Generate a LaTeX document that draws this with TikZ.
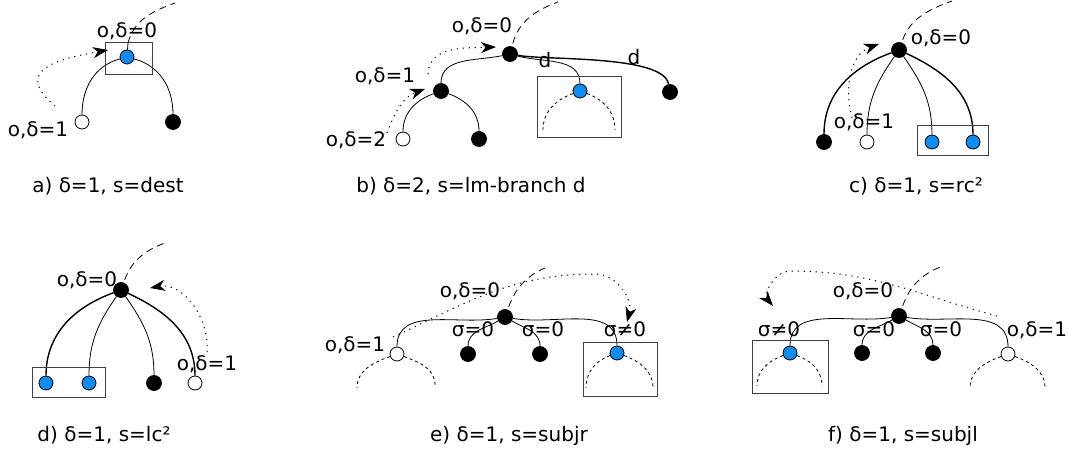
\documentclass[tikz,border=0pt]{standalone}
\usepackage{fontspec}
\setmainfont{DejaVu Sans}
\usetikzlibrary{arrows.meta}
\definecolor{targetblue}{RGB}{16,140,240}
\tikzset{
	vertex/.style={circle,draw,line width=0.8pt,minimum size=14pt,inner sep=0pt},%
	hole/.style={vertex,fill=white},%
	full/.style={vertex,fill=black,minimum size=15pt},%
	target/.style={vertex,fill=targetblue},%
	edge/.style={line width=0.8pt},%
	heavy/.style={line width=1.4pt},%
	parent/.style={dash pattern=on 7pt off 5pt,line width=0.8pt,shorten <=3pt},%
	subtree/.style={dash pattern=on 3pt off 3pt,line width=0.8pt},%
	move/.style={dash pattern=on 1.2pt off 4.8pt,line width=1pt,-{Stealth[length=15pt,width=11pt,inset=4.5pt]}},%
	frame/.style={draw=black!75,line width=1pt},%
	lbl/.style={anchor=base,inner sep=0pt,font=\fontsize{20}{24}\selectfont},%
}

\begin{document}
\begin{tikzpicture}[x=1pt,y=1pt]
	\useasboundingbox (0,0) rectangle (1069,-449);
	% a
	\node[target] (a0) at (127,-57) {};
	\node[hole] (a1) at (82,-122) {};
	\node[full] (a2) at (173,-122) {};
	\draw[edge] (a0) to[out=195,in=90] (a1);
	\draw[edge] (a0) to[out=-15,in=90] (a2);
	\draw[frame] (105,-43) rectangle (152,-75);
	\coordinate (a-up) at (128,-43);
	\coordinate (a-top) at (175,-3);
	\draw[edge] (a0) -- (a-up);
	\draw[parent,shorten <=0pt] (a-up) to[out=75,in=200] (a-top);
	\coordinate (a-from) at (55,-106);
	\coordinate (a-to) at (108,-50);
	\draw[move] (a-from) to[out=140,in=190,looseness=1.8] (a-to);
	\node[lbl] (a-l0) at (127,-38) {o,δ=0};
	\node[lbl] (a-l1) at (38,-137) {o,δ=1};
	\node[lbl] (a-cap) at (108,-193) {a) δ=1, s=dest};
	% b
	\node[full] (b0) at (510,-54) {};
	\node[full] (b1) at (441,-91) {};
	\node[hole] (b2) at (403,-139) {};
	\node[full] (b3) at (479,-139) {};
	\node[target] (b4) at (580,-91) {};
	\node[full] (b5) at (670,-92) {};
	\draw[edge] (b0) to[out=192,in=90] (b1);
	\draw[edge] (b1) to[out=200,in=90] (b2);
	\draw[edge] (b1) to[out=-20,in=90] (b3);
	\draw[edge] (b0) to[out=-15,in=90] (b4);
	\draw[heavy] (b0) to[out=-10,in=100,looseness=0.5] (b5);
	\coordinate (b-l) at (543,-130);
	\coordinate (b-r) at (615,-130);
	\draw[subtree] (b4) to[out=200,in=90] (b-l);
	\draw[subtree] (b4) to[out=-20,in=90] (b-r);
	\draw[frame] (537,-77) rectangle (621,-138);
	\coordinate (b-top) at (558,-2);
	\draw[parent] (b0) to[out=75,in=200] (b-top);
	\coordinate (b-from1) at (387,-133);
	\coordinate (b-to1) at (425,-89);
	\draw[move] (b-from1) to[out=70,in=200] (b-to1);
	\coordinate (b-from2) at (428,-74);
	\coordinate (b-to2) at (496,-47);
	\draw[move] (b-from2) to[out=88,in=182] (b-to2);
	\node[lbl] (b-l0) at (482,-33) {o,δ=0};
	\node[lbl] (b-l1) at (385,-83) {o,δ=1};
	\node[lbl] (b-l2) at (356,-147) {o,δ=2};
	\node[lbl] (b-d1) at (545,-68) {d};
	\node[lbl] (b-d2) at (634,-65) {d};
	\node[lbl] (b-cap) at (471,-193) {b) δ=2, s=lm-branch d};
	% c
	\node[full] (c0) at (899,-50) {};
	\node[full] (c1) at (824,-142) {};
	\node[hole] (c2) at (867,-142) {};
	\node[target] (c3) at (932,-142) {};
	\node[target] (c4) at (973,-142) {};
	\draw[heavy] (c0) to[out=200,in=90] (c1);
	\draw[edge] (c0) to[out=235,in=90] (c2);
	\draw[edge] (c0) to[out=-55,in=90] (c3);
	\draw[heavy] (c0) to[out=-25,in=90] (c4);
	\draw[frame] (917,-126) rectangle (988,-156);
	\coordinate (c-top) at (952,-1);
	\draw[parent] (c0) to[out=70,in=200] (c-top);
	\coordinate (c-from) at (852,-118);
	\coordinate (c-to) at (879,-44);
	\draw[move] (c-from) to[out=105,in=200] (c-to);
	\node[lbl] (c-l0) at (941,-45) {o,δ=0};
	\node[lbl] (c-l1) at (864,-129) {o,δ=1};
	\node[lbl] (c-cap) at (916,-193) {c) δ=1, s=rc²};
	% d
	\node[full] (d0) at (121,-290) {};
	\node[target] (d1) at (46,-383) {};
	\node[target] (d2) at (89,-383) {};
	\node[full] (d3) at (154,-383) {};
	\node[hole] (d4) at (195,-383) {};
	\draw[heavy] (d0) to[out=200,in=90] (d1);
	\draw[edge] (d0) to[out=235,in=90] (d2);
	\draw[edge] (d0) to[out=-55,in=90] (d3);
	\draw[heavy] (d0) to[out=-25,in=90] (d4);
	\draw[frame] (32,-367) rectangle (105,-397);
	\coordinate (d-top) at (165,-243);
	\draw[parent] (d0) to[out=70,in=200] (d-top);
	\coordinate (d-from) at (207,-352);
	\coordinate (d-to) at (150,-288);
	\draw[move] (d-from) to[out=85,in=10] (d-to);
	\node[lbl] (d-l0) at (87,-287) {o,δ=0};
	\node[lbl] (d-l1) at (207,-370) {o,δ=1};
	\node[lbl] (d-cap) at (104,-441) {d) δ=1, s=lc²};
	% e
	\node[full] (e0) at (505,-317) {};
	\node[hole] (e1) at (397,-354) {};
	\node[full] (e2) at (468,-354) {};
	\node[full] (e3) at (540,-354) {};
	\node[target] (e4) at (617,-353) {};
	\draw[edge] (e0) to[out=190,in=90] (e1);
	\draw[edge] (e0) to[out=210,in=90] (e2);
	\draw[edge] (e0) to[out=-30,in=90] (e3);
	\draw[edge] (e0) to[out=-10,in=90] (e4);
	\coordinate (e-l1) at (357,-388);
	\coordinate (e-r1) at (435,-385);
	\coordinate (e-l4) at (586,-388);
	\coordinate (e-r4) at (653,-388);
	\draw[subtree] (e1) to[out=200,in=90] (e-l1);
	\draw[subtree] (e1) to[out=-20,in=90] (e-r1);
	\draw[subtree] (e4) to[out=200,in=90] (e-l4);
	\draw[subtree] (e4) to[out=-20,in=90] (e-r4);
	\draw[frame] (583,-342) rectangle (657,-396);
	\coordinate (e-top) at (550,-266);
	\draw[parent] (e0) to[out=70,in=200] (e-top);
	\coordinate (e-from) at (393,-337);
	\coordinate (e-mid) at (595,-274);
	\coordinate (e-to) at (627,-322);
	\draw[move] (e-from) to[out=25,in=180] (e-mid) to[out=0,in=75] (e-to);
	\node[lbl] (e-l0) at (470,-298) {o,δ=0};
	\node[lbl] (e-l1) at (355,-352) {o,δ=1};
	\node[lbl] (e-s2) at (473,-336) {σ=0};
	\node[lbl] (e-s3) at (543,-336) {σ=0};
	\node[lbl] (e-s4) at (625,-336) {σ≠0};
	\node[lbl] (e-cap) at (509,-441) {e) δ=1, s=subjr};
	% f
	\node[full] (f0) at (899,-316) {};
	\node[target] (f1) at (790,-353) {};
	\node[full] (f2) at (862,-353) {};
	\node[full] (f3) at (933,-353) {};
	\node[hole] (f4) at (1008,-354) {};
	\draw[edge] (f0) to[out=190,in=90] (f1);
	\draw[edge] (f0) to[out=210,in=90] (f2);
	\draw[edge] (f0) to[out=-30,in=90] (f3);
	\draw[edge] (f0) to[out=-10,in=90] (f4);
	\coordinate (f-l1) at (757,-386);
	\coordinate (f-r1) at (822,-386);
	\coordinate (f-l4) at (970,-388);
	\coordinate (f-r4) at (1045,-388);
	\draw[subtree] (f1) to[out=200,in=90] (f-l1);
	\draw[subtree] (f1) to[out=-20,in=90] (f-r1);
	\draw[subtree] (f4) to[out=200,in=90] (f-l4);
	\draw[subtree] (f4) to[out=-20,in=90] (f-r4);
	\draw[frame] (752,-340) rectangle (828,-393);
	\coordinate (f-top) at (943,-266);
	\draw[parent] (f0) to[out=70,in=200] (f-top);
	\coordinate (f-from) at (997,-316);
	\coordinate (f-mid) at (790,-271);
	\coordinate (f-to) at (773,-306);
	\draw[move] (f-from) to[out=165,in=0] (f-mid) to[out=180,in=130] (f-to);
	\node[lbl] (f-l0) at (863,-298) {o,δ=0};
	\node[lbl] (f-s1) at (779,-336) {σ≠0};
	\node[lbl] (f-s2) at (874,-336) {σ=0};
	\node[lbl] (f-s3) at (941,-336) {σ=0};
	\node[lbl] (f-l4) at (1037,-336) {o,δ=1};
	\node[lbl] (f-cap) at (903,-441) {f) δ=1, s=subjl};
\end{tikzpicture}
\end{document}
